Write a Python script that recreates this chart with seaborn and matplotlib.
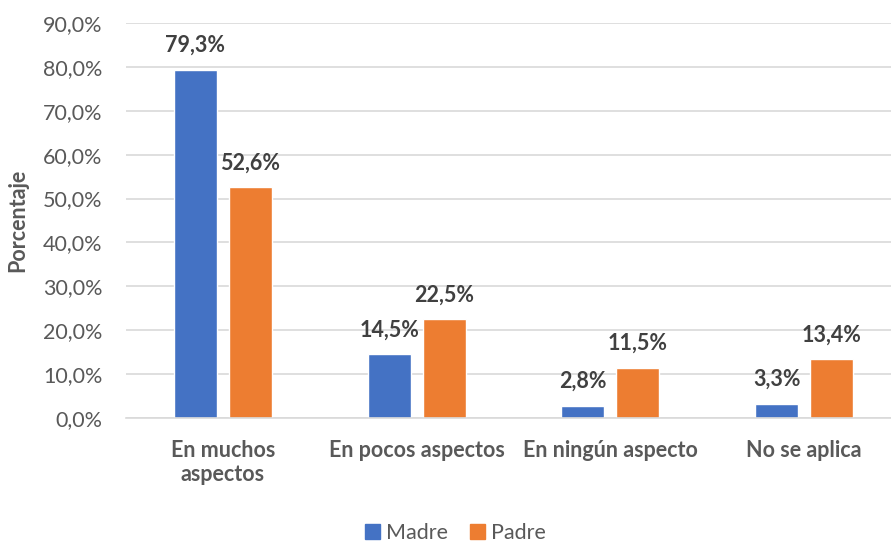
import seaborn as sns
import matplotlib.pyplot as plt
import pandas as pd
from matplotlib.ticker import FuncFormatter, MultipleLocator

categorias = ['En muchos\naspectos', 'En pocos aspectos', 'En ningún aspecto', 'No se aplica']
madre = [79.3, 14.5, 2.8, 3.3]
padre = [52.6, 22.5, 11.5, 13.4]
series = ['Madre', 'Padre']
colores = ['#4472C4', '#ED7D31']

df = pd.DataFrame({
    'categoria': categorias * 2,
    'valor': madre + padre,
    'serie': [series[0]] * 4 + [series[1]] * 4,
})

sns.set_theme(style='white')
plt.rcParams['font.family'] = ['Lato', 'DejaVu Sans']

fig = plt.figure(figsize=(8.91, 5.42), dpi=100)
ax = fig.add_axes([126 / 891, 124 / 542, 1 - 126 / 891, 395 / 542])

sns.barplot(data=df, x='categoria', y='valor', hue='serie', palette=colores,
            saturation=1, width=0.567, gap=0.22, ax=ax, legend=False)

ax.set_xlim(-0.5, 3.5 - 10 / 194)
ax.set_ylim(0, 90)
ax.yaxis.set_major_locator(MultipleLocator(10))
ax.yaxis.set_major_formatter(FuncFormatter(lambda v, p: f'{v:.1f}%'.replace('.', ',')))
ax.grid(axis='y', color='#D9D9D9', linewidth=1.2)
ax.set_axisbelow(True)
for s in ['top', 'right', 'left']:
    ax.spines[s].set_visible(False)
ax.spines['bottom'].set_color('#D9D9D9')
ax.spines['bottom'].set_linewidth(1.2)

fs = 15.5
ax.tick_params(axis='y', length=0, pad=17, labelsize=fs, labelcolor='#595959')
ax.tick_params(axis='x', length=0, pad=16, labelsize=fs, labelcolor='#595959')
for lbl in ax.get_xticklabels():
    lbl.set_fontweight('bold')
    lbl.set_linespacing(1.15)
    lbl.set_verticalalignment('top')

ax.set_xlabel('')
ax.set_ylabel('Porcentaje', fontsize=fs, fontweight='bold', color='#595959')
ax.yaxis.set_label_coords(-98 / 765, 0.5)

for cont in ax.containers:
    ax.bar_label(cont, labels=[f'{b.get_height():.1f}%'.replace('.', ',') for b in cont],
                 padding=10, fontsize=fs, fontweight='bold', color='#404040')

handles = [plt.Rectangle((0, 0), 1, 1, color=c) for c in colores]
fig.legend(handles, series, loc='center', bbox_to_anchor=(0.511, 9 / 542), ncol=2,
           frameon=False, fontsize=fs, labelcolor='#595959', handlelength=0.7,
           handleheight=0.7, handletextpad=0.3, columnspacing=1.0)

fig.savefig('out.png', dpi=100)
